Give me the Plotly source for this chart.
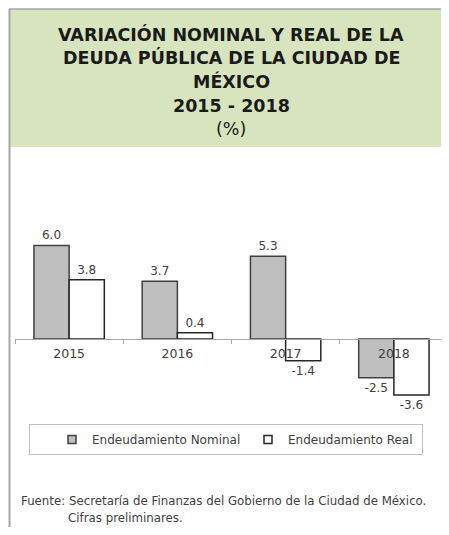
import plotly.graph_objects as go

categories = ["2015", "2016", "2017", "2018"]
nominal = [6.0, 3.7, 5.3, -2.5]
real = [3.8, 0.4, -1.4, -3.6]
series_names = ["Endeudamiento Nominal", "Endeudamiento Real"]

title_lines = ["<b>VARIACIÓN NOMINAL Y REAL DE LA</b>",
               "<b>DEUDA PÚBLICA DE LA CIUDAD DE</b>",
               "<b>MÉXICO</b>",
               "<b>2015 - 2018</b>",
               "(%)"]
source_lines = ["Fuente: Secretaría de Finanzas del Gobierno de la Ciudad de México.",
                "Cifras preliminares."]

# page body has an 8px margin; work in window pixel coordinates
OFF = 8
W, H = 449 - OFF, 535 - 2 * OFF
PLOT_L, PLOT_R = 15, 448          # window px of plot area
ML = PLOT_L - OFF
MR = W - (PLOT_R - OFF)
PW = W - ML - MR

def px_x(x):
    return (x - OFF - ML) / PW

def px_y(y):
    return 1 - (y - OFF) / H

FONT = "DejaVu Sans"
TXT = "#404040"
NOM_FILL = "#bfbfbf"
NOM_LINE = "#404040"
REAL_FILL = "#ffffff"
REAL_LINE = "#262626"

YMIN, YMAX = -4.5, 7.5
dom_top, dom_bot = px_y(222), px_y(409)
zero_pos = dom_bot + (0 - YMIN) / (YMAX - YMIN) * (dom_top - dom_bot)

fig = go.Figure()
fig.add_trace(go.Bar(
    x=categories, y=nominal, name=series_names[0], showlegend=False,
    marker=dict(color=NOM_FILL, line=dict(color=NOM_LINE, width=1.5)),
    texttemplate="%{y:.1f}", textposition="outside",
    textfont=dict(family=FONT, size=12, color=TXT), cliponaxis=False,
))
fig.add_trace(go.Bar(
    x=categories, y=real, name=series_names[1], showlegend=False,
    marker=dict(color=REAL_FILL, line=dict(color=REAL_LINE, width=1.5)),
    texttemplate="%{y:.1f}", textposition="outside",
    textfont=dict(family=FONT, size=12, color=TXT), cliponaxis=False,
))
# legend keys (small squares like the original)
fig.add_trace(go.Scatter(x=[None], y=[None], mode="markers", name=series_names[0],
                         marker=dict(symbol="square", size=8, color=NOM_FILL,
                                     line=dict(color=NOM_LINE, width=1.5))))
fig.add_trace(go.Scatter(x=[None], y=[None], mode="markers", name=series_names[1],
                         marker=dict(symbol="square", size=8, color=REAL_FILL,
                                     line=dict(color=REAL_LINE, width=1.5))))

shapes = [
    dict(type="rect", xref="paper", yref="paper", x0=px_x(9), x1=px_x(449),
         y0=px_y(147), y1=px_y(9), fillcolor="#d7e4bd", line=dict(width=0), layer="below"),
    dict(type="line", xref="paper", yref="paper", x0=px_x(9), x1=px_x(449),
         y0=px_y(9), y1=px_y(9), line=dict(color="#a6a6a6", width=1.5)),
    dict(type="line", xref="paper", yref="paper", x0=px_x(9.5), x1=px_x(9.5),
         y0=px_y(9), y1=px_y(535), line=dict(color="#a6a6a6", width=2)),
]

annotations = []
title_y = [34, 58, 82, 106, 129]
for line, yy in zip(title_lines, title_y):
    annotations.append(dict(text=line, xref="paper", yref="paper", x=px_x(231), y=px_y(yy),
                            xanchor="center", yanchor="middle", showarrow=False,
                            font=dict(family=FONT, size=17.5, color="#1a1a1a")))
annotations.append(dict(text=source_lines[0], xref="paper", yref="paper", x=px_x(19), y=px_y(501),
                        xanchor="left", yanchor="middle", showarrow=False,
                        font=dict(family=FONT, size=11.8, color=TXT)))
annotations.append(dict(text=source_lines[1], xref="paper", yref="paper", x=px_x(66), y=px_y(518),
                        xanchor="left", yanchor="middle", showarrow=False,
                        font=dict(family=FONT, size=11.8, color=TXT)))

fig.update_layout(
    width=W, height=H,
    margin=dict(l=ML, r=MR, t=0, b=0, pad=0, autoexpand=False),
    paper_bgcolor="white", plot_bgcolor="rgba(0,0,0,0)",
    barmode="group", bargap=0.35, bargroupgap=0,
    font=dict(family=FONT, color=TXT),
    showlegend=True,
    legend=dict(orientation="h", x=px_x(29), y=px_y(424), xanchor="left", yanchor="top",
                bordercolor="#bfbfbf", borderwidth=1, bgcolor="white",
                font=dict(family=FONT, size=12, color=TXT),
                entrywidth=129, indentation=22, traceorder="normal"),
    shapes=shapes, annotations=annotations,
    xaxis=dict(anchor="free", position=zero_pos, showline=True, linecolor="#a6a6a6",
               linewidth=1, ticks="outside", ticklen=4, tickcolor="#a6a6a6",
               tickson="boundaries", showgrid=False, zeroline=False, fixedrange=True,
               ticklabelstandoff=3,
               tickfont=dict(family=FONT, size=12.5, color=TXT)),
    yaxis=dict(domain=[dom_bot, dom_top], range=[YMIN, YMAX], visible=False,
               showgrid=False, zeroline=False, fixedrange=True),
)

fig.write_html("out.html")
